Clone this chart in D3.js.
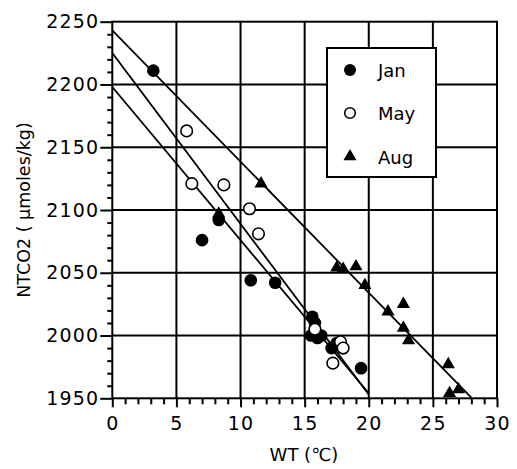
<!DOCTYPE html>
<html><head><meta charset="utf-8">
<script src="https://cdn.jsdelivr.net/npm/d3@7"></script>
<style>body{margin:0;background:#fff}svg{display:block}text{font-family:"DejaVu Sans",sans-serif;fill:#000}</style>
</head><body>
<svg id="c" width="517" height="469"></svg>
<script>
const xTicks = [0,5,10,15,20,25,30];
const yTicks = [1950,2000,2050,2100,2150,2200,2250];
const seriesNames = ["Jan","May","Aug"];
const janX = [3.2,7.0,8.3,10.8,12.7,15.6,15.8,15.5,16.0,16.3,17.1,17.5,19.4];
const janY = [2211,2076,2092,2044,2042,2015,2010,2000,1998,2000,1990,1994,1974];
const mayX = [5.8,6.2,8.7,10.7,11.4,15.8,17.2,17.8,18.0];
const mayY = [2163,2121,2120,2101,2081,2005,1978,1995,1990];
const augX = [8.3,11.6,17.5,18.0,19.0,19.7,21.5,22.7,22.7,23.1,26.2,26.3,27.0];
const augY = [2097,2121,2054,2053,2055,2040,2019,2025,2006,1996,1977,1954,1957];
// regression line endpoints [x0,y0,x1,y1]
const janLine = [0,2198,20,1954];
const mayLine = [0,2225,20,1953];
const augLine = [0,2243,28,1950.5];

const svg = d3.select("#c");
const L=112.3,R=497,T=21.7,B=398.3;
const x = d3.scaleLinear().domain([0,30]).range([L,R]);
const y = d3.scaleLinear().domain([1950,2250]).range([B,T]);

// gridlines
svg.append("g").selectAll("line").data(xTicks.slice(1,-1)).join("line")
  .attr("x1",d=>x(d)).attr("x2",d=>x(d)).attr("y1",T).attr("y2",B)
  .attr("stroke","#000").attr("stroke-width",2);
svg.append("g").selectAll("line").data(yTicks.slice(1,-1)).join("line")
  .attr("x1",L).attr("x2",R).attr("y1",d=>y(d)).attr("y2",d=>y(d))
  .attr("stroke","#000").attr("stroke-width",2);
svg.append("rect").attr("x",L).attr("y",T).attr("width",R-L).attr("height",B-T)
  .attr("fill","none").attr("stroke","#000").attr("stroke-width",2);

// minor ticks
const xMinor = d3.range(0,30.01,1).filter(v=>v%5!==0);
const yMinor = d3.range(1950,2250.01,10).filter(v=>v%50!==0);
const gxm = svg.append("g").attr("transform",`translate(0,${B})`)
  .call(d3.axisBottom(x).tickValues(xMinor).tickSize(6).tickFormat(""));
const gym = svg.append("g").attr("transform",`translate(${L},0)`)
  .call(d3.axisLeft(y).tickValues(yMinor).tickSize(5).tickFormat(""));
[gxm,gym].forEach(g=>{g.select(".domain").remove();g.selectAll("line").attr("stroke","#000").attr("stroke-width",2);});

// major axes
const gx = svg.append("g").attr("transform",`translate(0,${B})`)
  .call(d3.axisBottom(x).tickValues(xTicks).tickSize(9).tickPadding(9).tickFormat(d3.format("d")));
const gy = svg.append("g").attr("transform",`translate(${L},0)`)
  .call(d3.axisLeft(y).tickValues(yTicks).tickSize(12).tickPadding(1).tickFormat(d3.format("d")));
[gx,gy].forEach(g=>{g.select(".domain").remove();g.selectAll("line").attr("stroke","#000").attr("stroke-width",2);
  g.selectAll("text").attr("font-size",19).attr("font-family","DejaVu Sans").attr("letter-spacing",1.2).attr("fill","#000");});

// regression lines
[janLine,mayLine,augLine].forEach(l=>{
  svg.append("line").attr("x1",x(l[0])).attr("y1",y(l[1])).attr("x2",x(l[2])).attr("y2",y(l[3]))
    .attr("stroke","#000").attr("stroke-width",1.8);
});

// points
const tri = d3.symbol().type(d3.symbolTriangle).size(75);
svg.append("g").selectAll("circle").data(d3.zip(janX,janY)).join("circle")
  .attr("cx",d=>x(d[0])).attr("cy",d=>y(d[1])).attr("r",6.3).attr("fill","#000");
svg.append("g").selectAll("circle").data(d3.zip(mayX,mayY)).join("circle")
  .attr("cx",d=>x(d[0])).attr("cy",d=>y(d[1])).attr("r",5.8).attr("fill","#fff").attr("stroke","#000").attr("stroke-width",1.6);
svg.append("g").selectAll("path").data(d3.zip(augX,augY)).join("path")
  .attr("d",tri).attr("transform",d=>`translate(${x(d[0])},${y(d[1])})`).attr("fill","#000");

// legend
const lg = svg.append("g");
lg.append("rect").attr("x",327).attr("y",48).attr("width",109).attr("height",129)
  .attr("fill","#fff").attr("stroke","#000").attr("stroke-width",2);
const ly = [70,113,156.5];
lg.append("circle").attr("cx",350).attr("cy",ly[0]).attr("r",6).attr("fill","#000");
lg.append("circle").attr("cx",350).attr("cy",ly[1]).attr("r",5.3).attr("fill","#fff").attr("stroke","#000").attr("stroke-width",1.6);
lg.append("path").attr("d",tri).attr("transform",`translate(350,${ly[2]})`).attr("fill","#000");
lg.selectAll("text").data(seriesNames).join("text")
  .attr("x",378).attr("y",(d,i)=>ly[i]+7).attr("font-size",18).text(d=>d);

// axis titles
svg.append("text").attr("x",304).attr("y",461).attr("text-anchor","middle").attr("font-size",18).text("WT  (℃)");
svg.append("text").attr("transform","translate(30,210) rotate(-90)").attr("text-anchor","middle")
  .attr("font-size",17.5).text("NTCO2 ( μmoles/kg)");
</script>
</body></html>
